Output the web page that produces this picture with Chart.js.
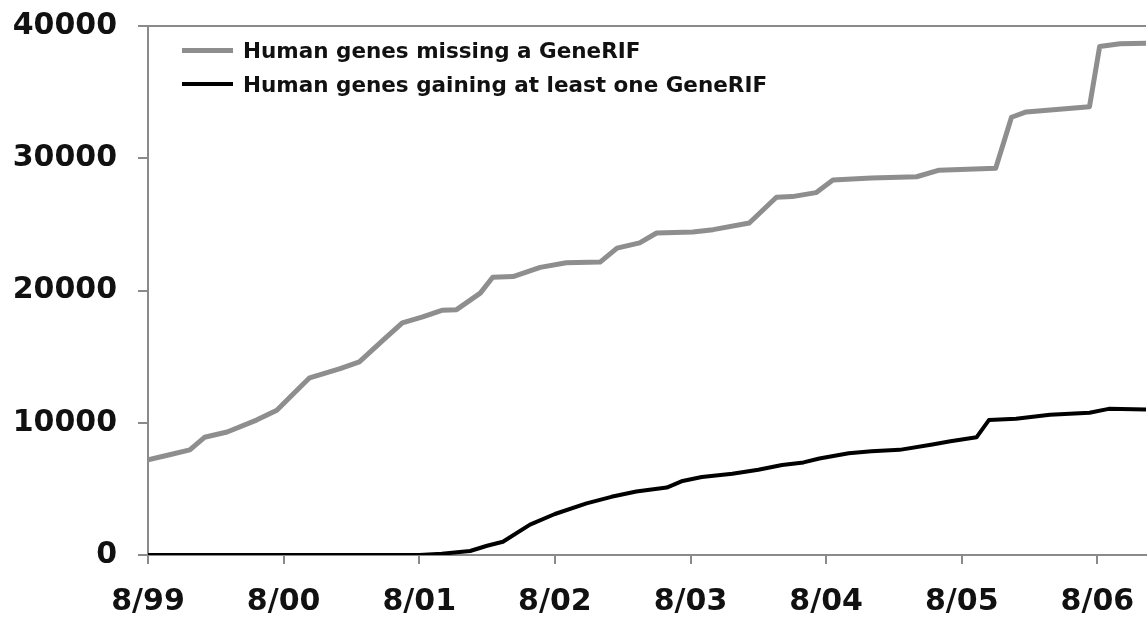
<!DOCTYPE html>
<html>
<head>
<meta charset="utf-8">
<script src="https://cdn.jsdelivr.net/npm/chart.js@4.4.1/dist/chart.umd.min.js"></script>
<style>
  html, body { margin: 0; padding: 0; background: #fff; }
  #wrap { position: relative; width: 1147px; height: 628px; }
  #legend { position: absolute; left: 182px; top: 33px; font-family: "DejaVu Sans", sans-serif; font-weight: bold; font-size: 21.5px; color: #111; }
  .item { display: flex; align-items: center; height: 34px; }
  .swatch { width: 51px; margin-right: 10px; }
</style>
</head>
<body>
<div id="wrap">
  <canvas id="c" width="1147" height="628"></canvas>
  <div id="legend"></div>
</div>
<script>
// months since 8/99
const tickLabels = ["8/99", "8/00", "8/01", "8/02", "8/03", "8/04", "8/05", "8/06"];
const missingMonths = [0, 2, 3.7, 5, 7, 9.6, 11.4, 13, 14.3, 17, 18.7, 20.8, 22.5, 24.3, 26, 27.3, 29.4, 30.5, 32.3, 34.7, 37, 40, 41.5, 43.5, 45, 48.2, 50, 53.2, 55.6, 57, 59.1, 60.6, 64, 68, 70, 75, 76.4, 77.7, 83.3, 84.2, 86, 88.3];
const missingValues = [7200, 7600, 7950, 8900, 9300, 10200, 10950, 12300, 13400, 14100, 14600, 16250, 17550, 18000, 18500, 18550, 19800, 21000, 21050, 21750, 22100, 22150, 23200, 23600, 24350, 24420, 24600, 25100, 27050, 27100, 27400, 28350, 28500, 28600, 29100, 29250, 33100, 33500, 33900, 38450, 38650, 38700];
const gainingMonths = [0, 24, 26, 28.5, 30, 31.4, 33.8, 36, 38.8, 41, 43.2, 45.9, 47.3, 49, 51.7, 54, 56.1, 58, 59.4, 62, 64, 66.5, 69.4, 71, 73.3, 74.4, 76.8, 79.8, 83.3, 85, 88.3];
const gainingValues = [0, 0, 100, 300, 700, 1000, 2300, 3100, 3900, 4400, 4800, 5100, 5600, 5900, 6150, 6450, 6800, 7000, 7300, 7700, 7850, 7950, 8350, 8600, 8900, 10200, 10300, 10600, 10750, 11050, 11000];
const seriesLabels = ["Human genes missing a GeneRIF", "Human genes gaining at least one GeneRIF"];

const toPts = (xs, ys) => xs.map((x, i) => ({ x: x, y: ys[i] }));
const axisGray = '#8a8a8a';
const tickFont = { family: "DejaVu Sans", weight: 'bold', size: 30 };

const chart = new Chart(document.getElementById('c'), {
  type: 'line',
  data: {
    datasets: [
      { label: seriesLabels[0], data: toPts(missingMonths, missingValues), borderColor: '#8e8e8e', borderWidth: 5, pointRadius: 0, tension: 0, borderJoinStyle: 'round', borderCapStyle: 'round' },
      { label: seriesLabels[1], data: toPts(gainingMonths, gainingValues), borderColor: '#000000', borderWidth: 4, pointRadius: 0, tension: 0, borderJoinStyle: 'round', borderCapStyle: 'round' }
    ]
  },
  options: {
    responsive: false,
    animation: false,
    layout: { padding: { top: 26, right: 1, left: 0, bottom: 0 } },
    plugins: { legend: { display: false }, tooltip: { enabled: false } },
    scales: {
      x: {
        type: 'linear', min: 0, max: 88.3,
        afterFit: s => { s.height = 73; s.paddingLeft = 0; s.paddingRight = 0; },
        afterBuildTicks: s => { s.ticks = s.ticks.filter(t => Math.abs(t.value % 12) < 1e-6); },
        ticks: { stepSize: 12, includeBounds: false, autoSkip: false, maxRotation: 0, padding: 20, color: '#111', font: tickFont,
          callback: v => tickLabels[Math.round(v / 12)] },
        grid: { drawOnChartArea: false, drawTicks: true, tickLength: 9, tickColor: axisGray, lineWidth: 2 },
        border: { display: true, color: axisGray, width: 2 }
      },
      y: {
        min: 0, max: 40000,
        afterFit: s => { s.width = 148; s.paddingTop = 0; s.paddingBottom = 0; },
        ticks: { stepSize: 10000, padding: 21, color: '#111', font: tickFont, callback: v => String(v) },
        grid: { drawTicks: true, tickLength: 10, tickColor: axisGray, lineWidth: 2,
          color: c => (c.tick && c.tick.value === 40000) ? axisGray : 'rgba(0,0,0,0)' },
        border: { display: true, color: axisGray, width: 2 }
      }
    }
  }
});

const lg = document.getElementById('legend');
chart.data.datasets.forEach(ds => {
  const it = document.createElement('div'); it.className = 'item';
  const sw = document.createElement('div'); sw.className = 'swatch';
  sw.style.height = ds.borderWidth + 'px'; sw.style.background = ds.borderColor;
  const tx = document.createElement('span'); tx.textContent = ds.label;
  it.appendChild(sw); it.appendChild(tx); lg.appendChild(it);
});
</script>
</body>
</html>
